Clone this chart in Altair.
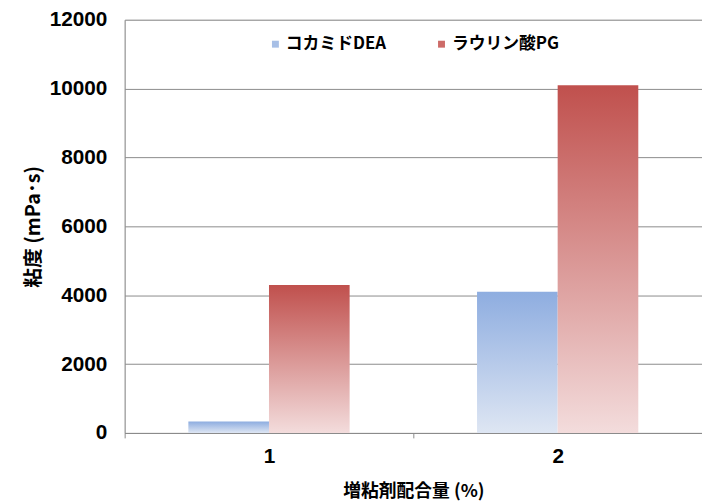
import altair as alt
import pandas as pd

categories = ["1", "2"]
series_names = ["コカミドDEA", "ラウリン酸PG"]
cocamide_dea = [330, 4100]
laurate_pg = [4300, 10100]
y_ticks = [0, 2000, 4000, 6000, 8000, 10000, 12000]

rows = []
for i, c in enumerate(categories):
    rows.append({"cat": c, "series": series_names[0], "value": cocamide_dea[i]})
    rows.append({"cat": c, "series": series_names[1], "value": laurate_pg[i]})
df = pd.DataFrame(rows)

blue_grad = alt.Gradient(
    gradient="linear",
    stops=[alt.GradientStop(color="#8EADE0", offset=0),
           alt.GradientStop(color="#DEE6F3", offset=1)],
    x1=0, x2=0, y1=0, y2=1,
)
red_grad = alt.Gradient(
    gradient="linear",
    stops=[alt.GradientStop(color="#C0504D", offset=0),
           alt.GradientStop(color="#F3DCDC", offset=1)],
    x1=0, x2=0, y1=0, y2=1,
)

JP = "Noto Sans CJK JP"
NUM = "Liberation Sans"

x_enc = alt.X(
    "cat:N",
    sort=categories,
    scale=alt.Scale(paddingInner=0, paddingOuter=0),
    axis=alt.Axis(
        title="増粘剤配合量 (%)", labelAngle=0, tickBand="extent",
        labelFont=NUM, labelFontSize=21, labelFontWeight="bold", labelColor="#000000",
        labelPadding=8, titleFont=JP, titleFontSize=18, titleFontWeight="bold",
        titleColor="#000000", titlePadding=16, domainColor="#8C8C8C",
        tickColor="#8C8C8C", tickSize=5,
    ),
)
y_enc = alt.Y(
    "value:Q",
    scale=alt.Scale(domain=[0, 12000], nice=False),
    axis=alt.Axis(
        title="粘度 (mPa･s)", values=y_ticks, format="d", grid=True,
        gridColor="#8C8C8C", domainColor="#8C8C8C", ticks=False,
        labelFont=NUM, labelFontSize=21, labelFontWeight="bold", labelColor="#000000",
        labelPadding=18, titleFont=JP, titleFontSize=20, titleFontWeight="bold",
        titleColor="#000000", titlePadding=6,
    ),
)
xoff = alt.XOffset(
    "series:N", sort=series_names,
    scale=alt.Scale(paddingInner=0, paddingOuter=0.79),
)
color_enc = alt.Color(
    "series:N",
    scale=alt.Scale(domain=series_names, range=["#A7BFE6", "#CD6B68"]),
    legend=alt.Legend(
        title=None, orient="none", direction="horizontal", legendX=144, legendY=16,
        symbolType="square", symbolSize=49, symbolStrokeWidth=0,
        labelFont=JP, labelFontSize=17, labelFontWeight="bold", labelColor="#000000",
        labelOffset=2, columnPadding=47,
    ),
)

base = alt.Chart(df)
blue = base.transform_filter(alt.datum.series == series_names[0]).mark_bar(
    fill=blue_grad
).encode(x=x_enc, y=y_enc, xOffset=xoff, color=color_enc)
red = base.transform_filter(alt.datum.series == series_names[1]).mark_bar(
    fill=red_grad
).encode(x=x_enc, y=y_enc, xOffset=xoff, color=color_enc)

chart = alt.layer(blue, red).properties(
    width=584, height=418,
    autosize=alt.AutoSizeParams(type="none"),
    padding={"left": 118, "top": 9, "right": 0, "bottom": 68},
).configure_view(stroke=None).configure(background="#FFFFFF")

chart.save("out.html", embed_options={"renderer": "svg", "actions": False})
